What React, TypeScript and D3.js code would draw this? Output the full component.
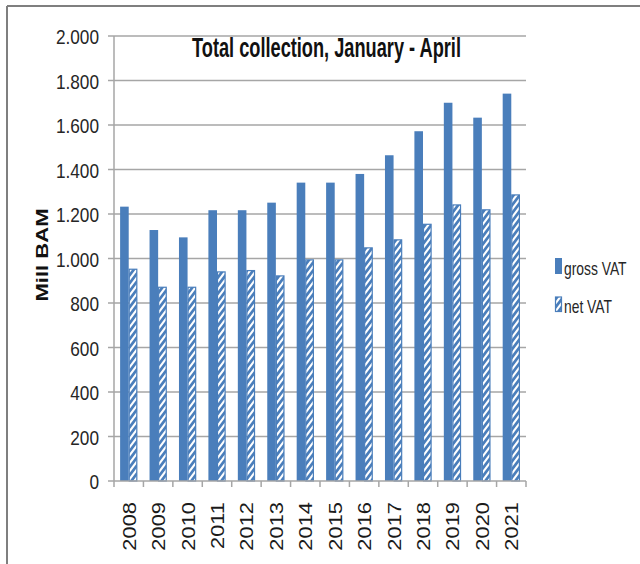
import React, { useEffect } from 'react';
import * as d3 from 'd3';

// January - April VAT collection, mill BAM
const years = ['2008', '2009', '2010', '2011', '2012', '2013', '2014', '2015', '2016', '2017', '2018', '2019', '2020', '2021'];
const grossVat = [1233, 1128, 1095, 1217, 1217, 1251, 1341, 1341, 1380, 1464, 1572, 1700, 1633, 1741];
const netVat = [954, 873, 873, 942, 948, 924, 996, 996, 1050, 1086, 1156, 1243, 1221, 1288];
const yTicks = [0, 200, 400, 600, 800, 1000, 1200, 1400, 1600, 1800, 2000];
const seriesNames = ['gross VAT', 'net VAT'];

const BLUE = '#4a7ebb';
const GRID = '#a6a6a6';

const fmt = d3.formatLocale({ decimal: ',', thousands: '.', grouping: [3], currency: ['', ''] }).format(',');

const App = () => {
    useEffect(() => {
        document.body.style.margin = '0';
    }, []);

    const width = 640;
    const height = 564;
    const plot = { left: 114, right: 526, top: 36, bottom: 481 };

    const x = d3.scaleBand<string>().domain(years).range([plot.left, plot.right]);
    const y = d3.scaleLinear().domain([0, 2000]).range([plot.bottom, plot.top]);
    const barW = 8.6;

    const sans = '"Liberation Sans", Arial, sans-serif';

    return (
        <svg width={width} height={height} style={{ display: 'block' }}>
            <defs>
                <pattern id="hatch" patternUnits="userSpaceOnUse" width="6" height="8">
                    <rect width="6" height="8" fill="#fff" />
                    <path d="M-1.5,10 L7.5,-2 M-3,4 L1.5,-2 M4.5,10 L7.5,6" stroke={BLUE} strokeWidth="2.7" />
                </pattern>
            </defs>
            <rect width={width} height={height} fill="#fff" />

            {/* outer frame */}
            <line x1={7} y1={6} x2={width} y2={6} stroke="#7f7f7f" strokeWidth={2} />
            <line x1={7} y1={6} x2={7} y2={height} stroke="#7f7f7f" strokeWidth={2} />

            {/* gridlines */}
            {yTicks.filter((t) => t > 0).map((t) => (
                <line key={t} x1={plot.left} x2={plot.right} y1={y(t)} y2={y(t)} stroke={GRID} strokeWidth={1.5} />
            ))}

            {/* y axis */}
            <line x1={plot.left} x2={plot.left} y1={plot.top} y2={plot.bottom} stroke={GRID} strokeWidth={1.5} />
            {yTicks.map((t) => (
                <g key={t}>
                    <line x1={plot.left - 6} x2={plot.left} y1={y(t)} y2={y(t)} stroke={GRID} strokeWidth={1.5} />
                    <text
                        transform={`translate(99,${y(t) + 8}) scale(0.82,1)`}
                        textAnchor="end"
                        fontFamily={sans}
                        fontSize={21}
                        fill="#262626"
                    >
                        {fmt(t)}
                    </text>
                </g>
            ))}

            {/* bars */}
            {years.map((yr, i) => {
                const cx = (x(yr) as number) + x.bandwidth() / 2;
                return (
                    <g key={yr}>
                        <rect x={cx - barW} y={y(grossVat[i])} width={barW} height={y(0) - y(grossVat[i])} fill={BLUE} />
                        <rect
                            x={cx + 0.5}
                            y={y(netVat[i]) + 0.5}
                            width={barW - 1}
                            height={y(0) - y(netVat[i]) - 0.5}
                            fill="url(#hatch)"
                            stroke={BLUE}
                            strokeWidth={1.2}
                        />
                    </g>
                );
            })}

            {/* x axis */}
            <line x1={plot.left} x2={plot.right} y1={plot.bottom} y2={plot.bottom} stroke={GRID} strokeWidth={1.5} />
            {years.concat(['end']).map((yr, i) => {
                const tx = plot.left + i * x.step();
                return <line key={yr} x1={tx} x2={tx} y1={plot.bottom} y2={plot.bottom + 6} stroke={GRID} strokeWidth={1.5} />;
            })}
            {years.map((yr) => {
                const cx = (x(yr) as number) + x.bandwidth() / 2;
                return (
                    <text
                        key={yr}
                        transform={`translate(${cx + 7},502) rotate(-90) scale(1.25,1)`}
                        textAnchor="end"
                        fontFamily={sans}
                        fontSize={17.5}
                        fill="#1a1a1a"
                    >
                        {yr}
                    </text>
                );
            })}

            {/* axis title */}
            <text
                transform="translate(48,255) rotate(-90) scale(1.38,1)"
                textAnchor="middle"
                fontFamily={sans}
                fontWeight="bold"
                fontSize={16}
                fill="#111"
            >
                Mill BAM
            </text>

            {/* chart title */}
            <text
                transform="translate(192,57) scale(0.65,1)"
                fontFamily={sans}
                fontWeight="bold"
                fontSize={28}
                fill="#111"
            >
                Total collection, January - April
            </text>

            {/* legend */}
            <rect x={555} y={258} width={7} height={16} fill={BLUE} />
            <text transform="translate(564,275) scale(0.77,1)" fontFamily={sans} fontSize={18} fill="#262626">
                {seriesNames[0]}
            </text>
            <rect x={555.5} y={297} width={6} height={14.5} fill="url(#hatch)" stroke={BLUE} strokeWidth={1.2} />
            <text transform="translate(564,313) scale(0.77,1)" fontFamily={sans} fontSize={18} fill="#262626">
                {seriesNames[1]}
            </text>
        </svg>
    );
};

export default App;
